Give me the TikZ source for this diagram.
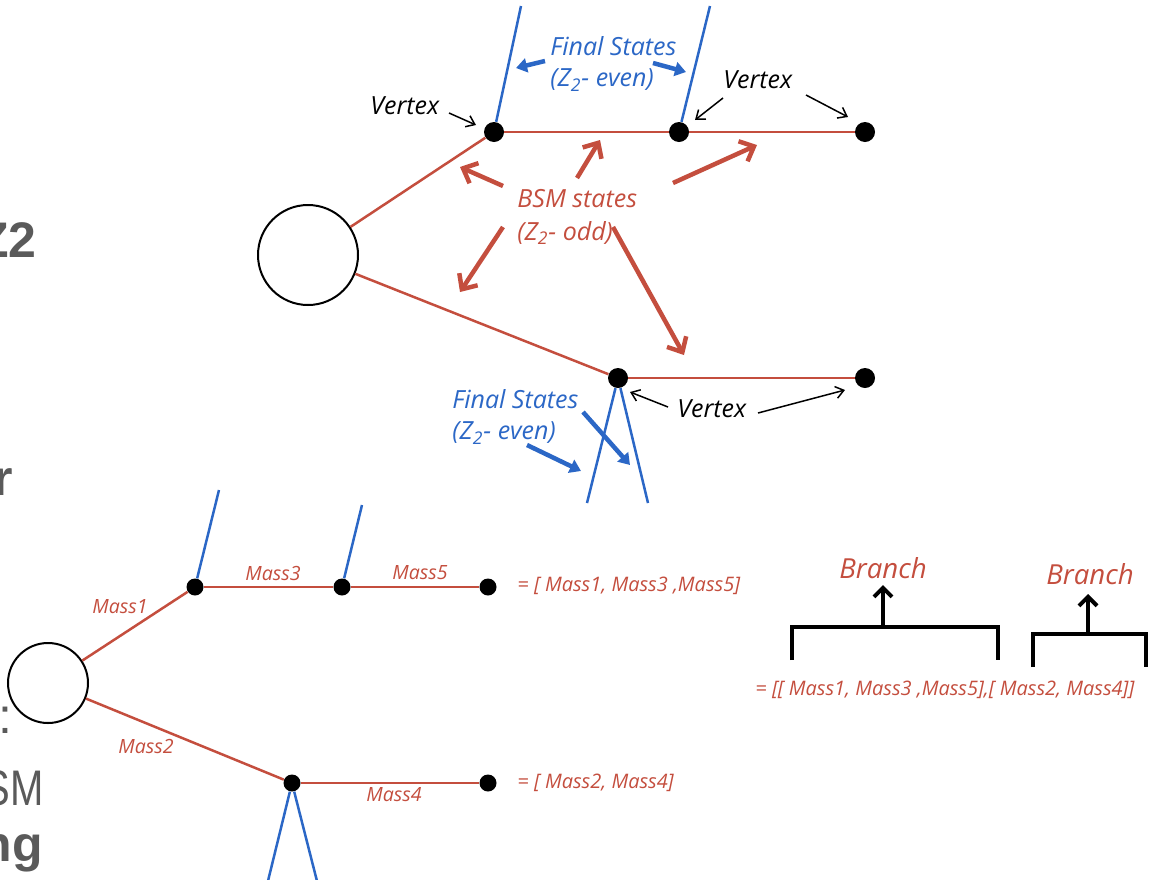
\documentclass[tikz,border=0pt]{standalone}
\usepackage{graphicx}
\usepackage{fontspec}
\setmainfont{Open Sans}
\newfontfamily\slidefont{Liberation Sans}
\usetikzlibrary{arrows.meta}

\newlength{\du}
\setlength{\du}{0.5\unitlength}

\definecolor{bsmcolor}{RGB}{196,78,62}
\definecolor{finalcolor}{RGB}{43,103,198}
\definecolor{slidecolor}{RGB}{90,90,90}

\tikzset{
  blob/.style={circle, draw=black, line width=2\du, minimum size=#1, inner sep=0pt},
  vertex/.style={circle, fill=black, minimum size=#1, inner sep=0pt},
  bsmline/.style={draw=bsmcolor, line width=2.5\du},
  finalline/.style={draw=finalcolor, line width=2.5\du},
  % tip sizes in pt, 1\du = 0.5pt
  bsmarrow/.style={draw=bsmcolor, line width=4.5\du, -{Straight Barb[length=6pt,width=11pt]}},
  finalarrow/.style={draw=finalcolor, line width=4.5\du, -{Triangle[length=5.5pt,width=7pt]}},
  vertexarrow/.style={draw=black, line width=1.5\du, -{Straight Barb[length=4pt,width=6pt]}},
  bracket/.style={draw=black, line width=4\du},
  brancharrow/.style={draw=black, line width=4\du, -{Straight Barb[length=4.5pt,width=9pt]}},
  hand/.style={font=\itshape\fontsize{12.5}{15}\selectfont, inner sep=0pt, anchor=west},
  mass/.style={font=\itshape\fontsize{9.8}{12}\selectfont, text=bsmcolor, inner sep=0pt, anchor=west},
  masslist/.style={font=\itshape\fontsize{10}{12}\selectfont, text=bsmcolor, inner sep=0pt, anchor=west},
  branchtext/.style={font=\itshape\fontsize{13.8}{16}\selectfont, text=bsmcolor, inner sep=0pt},
  slidetext/.style={font=\slidefont\fontsize{25}{30}\selectfont, text=slidecolor, inner sep=0pt, anchor=base east},
  slidebold/.style={slidetext, font=\slidefont\bfseries\fontsize{25}{30}\selectfont}
}

\begin{document}
\begin{tikzpicture}
\pgftransformxscale{1.000000}
\pgftransformyscale{-1.000000}
\useasboundingbox (0\du,0\du) rectangle (1173\du,879\du);
\clip (0\du,0\du) rectangle (1173\du,879\du);

% slide text cut at the left border
\node[slidebold] (slz) at (37\du,257\du) {Z2};
\node[slidebold] (slr) at (13\du,495\du) {r};
\node[slidetext] (sly) at (13\du,733\du) {y:};
\node[slidetext] (slsm) at (44\du,805\du) {\scalebox{0.8}[1]{SM}};
\node[slidebold] (slng) at (43\du,861\du) {ng};

% upper decay chain
\node[blob=100\du] (topblob) at (308\du,255\du) {};
\node[vertex=20\du] (va) at (494\du,132\du) {};
\node[vertex=20\du] (vb) at (679\du,132\du) {};
\node[vertex=20\du] (vc) at (865\du,132\du) {};
\node[vertex=20\du] (vd) at (618\du,378\du) {};
\node[vertex=20\du] (ve) at (865\du,378\du) {};
\draw[bsmline] (topblob) -- (va);
\draw[bsmline] (va) -- (vb);
\draw[bsmline] (vb) -- (vc);
\draw[bsmline] (topblob) -- (vd);
\draw[bsmline] (vd) -- (ve);

\coordinate (fa) at (521\du,6\du);
\coordinate (fb) at (710\du,6\du);
\coordinate (fd1) at (587\du,503\du);
\coordinate (fd2) at (648\du,503\du);
\draw[finalline] (va) -- (fa);
\draw[finalline] (vb) -- (fb);
\draw[finalline] (vd) -- (fd1);
\draw[finalline] (vd) -- (fd2);

% labels
\node[hand, text=finalcolor] (fsup) at (550\du,46\du) {Final States};
\node[hand, text=finalcolor] (zup) at (550\du,80\du) {(Z\textsubscript{2}- even)};
\node[hand, text=bsmcolor] (bsm) at (517\du,199\du) {BSM states};
\node[hand, text=bsmcolor] (zodd) at (517\du,233\du) {(Z\textsubscript{2}- odd)};
\node[hand] (vtxa) at (370\du,106\du) {Vertex};
\node[hand] (vtxb) at (723\du,80\du) {Vertex};
\node[hand] (vtxd) at (677\du,409\du) {Vertex};
\node[hand, text=finalcolor] (fslow) at (452\du,399\du) {Final States};
\node[hand, text=finalcolor] (zlow) at (452\du,433\du) {(Z\textsubscript{2}- even)};

% pointers
\coordinate (fat) at (545\du,61\du);   \coordinate (fah) at (516\du,68\du);
\coordinate (fbt) at (653\du,63\du);   \coordinate (fbh) at (686\du,72\du);
\draw[finalarrow] (fat) -- (fah);
\draw[finalarrow] (fbt) -- (fbh);
\coordinate (fct) at (583\du,412\du);  \coordinate (fch) at (630\du,465\du);
\coordinate (fdt) at (527\du,445\du);  \coordinate (fdh) at (581\du,471\du);
\draw[finalarrow] (fct) -- (fch);
\draw[finalarrow] (fdt) -- (fdh);

\coordinate (b1t) at (503\du,186\du);  \coordinate (b1h) at (460\du,167\du);
\coordinate (b2t) at (577\du,178\du);  \coordinate (b2h) at (600\du,140\du);
\coordinate (b3t) at (673\du,183\du);  \coordinate (b3h) at (757\du,145\du);
\coordinate (b4t) at (503\du,227\du);  \coordinate (b4h) at (460\du,292\du);
\coordinate (b5t) at (613\du,227\du);  \coordinate (b5h) at (684\du,355\du);
\draw[bsmarrow] (b1t) -- (b1h);
\draw[bsmarrow] (b2t) -- (b2h);
\draw[bsmarrow] (b3t) -- (b3h);
\draw[bsmarrow] (b4t) -- (b4h);
\draw[bsmarrow] (b5t) -- (b5h);

\coordinate (v1t) at (449\du,113\du);  \coordinate (v1h) at (476\du,125\du);
\coordinate (v2t) at (723\du,98\du);   \coordinate (v2h) at (695\du,120\du);
\coordinate (v3t) at (806\du,95\du);   \coordinate (v3h) at (848\du,117\du);
\coordinate (v4t) at (668\du,407\du);  \coordinate (v4h) at (630\du,392\du);
\coordinate (v5t) at (758\du,413\du);  \coordinate (v5h) at (845\du,390\du);
\draw[vertexarrow] (v1t) -- (v1h);
\draw[vertexarrow] (v2t) -- (v2h);
\draw[vertexarrow] (v3t) -- (v3h);
\draw[vertexarrow] (v4t) -- (v4h);
\draw[vertexarrow] (v5t) -- (v5h);

% lower chain with masses
\node[blob=80\du] (lowblob) at (48\du,683\du) {};
\node[vertex=17\du] (m1) at (195\du,587\du) {};
\node[vertex=17\du] (m3) at (342\du,587\du) {};
\node[vertex=17\du] (m5) at (488\du,587\du) {};
\node[vertex=17\du] (m2) at (292\du,783\du) {};
\node[vertex=17\du] (m4) at (488\du,783\du) {};
\draw[bsmline] (lowblob) -- (m1);
\draw[bsmline] (m1) -- (m3);
\draw[bsmline] (m3) -- (m5);
\draw[bsmline] (lowblob) -- (m2);
\draw[bsmline] (m2) -- (m4);

\coordinate (g1) at (219\du,490\du);
\coordinate (g3) at (362\du,505\du);
\coordinate (g2a) at (267\du,885\du);
\coordinate (g2b) at (318\du,885\du);
\draw[finalline] (m1) -- (g1);
\draw[finalline] (m3) -- (g3);
\draw[finalline] (m2) -- (g2a);
\draw[finalline] (m2) -- (g2b);

\node[mass] (lm1) at (92\du,607\du) {Mass1};
\node[mass] (lm3) at (245\du,573\du) {Mass3};
\node[mass] (lm5) at (392\du,573\du) {Mass5};
\node[mass] (lm2) at (118\du,746\du) {Mass2};
\node[mass] (lm4) at (366\du,795\du) {Mass4};

\node[masslist] (lista) at (517\du,586\du) {= [ Mass1, Mass3 ,Mass5]};
\node[masslist] (listb) at (517\du,783\du) {= [ Mass2, Mass4]};
\node[masslist] (listall) at (755\du,690\du) {= [[ Mass1, Mass3 ,Mass5],[ Mass2, Mass4]]};

% branches
\draw[bracket] (792\du,660\du) -- (792\du,627\du) -- (998\du,627\du) -- (998\du,660\du);
\draw[bracket] (1033\du,667\du) -- (1033\du,634\du) -- (1146\du,634\du) -- (1146\du,667\du);
\node[branchtext] (bra) at (883\du,568\du) {Branch};
\node[branchtext] (brb) at (1090\du,574\du) {Branch};
\coordinate (bat) at (883\du,627\du);  \coordinate (bah) at (883\du,585\du);
\coordinate (bbt) at (1088\du,634\du); \coordinate (bbh) at (1088\du,594\du);
\draw[brancharrow] (bat) -- (bah);
\draw[brancharrow] (bbt) -- (bbh);
\end{tikzpicture}
\end{document}
